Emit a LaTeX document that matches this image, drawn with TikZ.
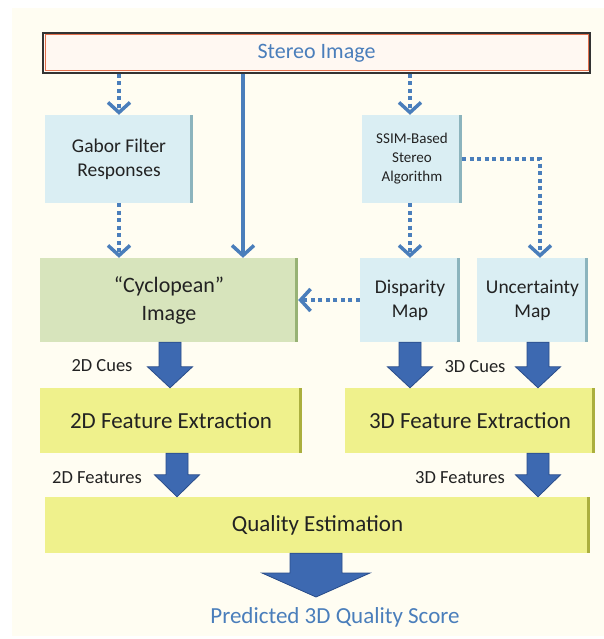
\documentclass[tikz,border=0pt]{standalone}
\usepackage{fontspec}
\setmainfont{Carlito}
\usetikzlibrary{arrows.meta,calc}
\definecolor{bg}{HTML}{FFFDF2}
\definecolor{txt}{HTML}{222222}
\definecolor{bluetxt}{HTML}{4A7EBB}
\definecolor{bluefill}{HTML}{DAEEF3}
\definecolor{blueedge}{HTML}{8CB4BD}
\definecolor{greenfill}{HTML}{D7E4BC}
\definecolor{greenedge}{HTML}{97B275}
\definecolor{yelfill}{HTML}{EFF18C}
\definecolor{yeledge}{HTML}{ABAF3E}
\definecolor{stfill}{HTML}{FFF8F2}
\definecolor{stred}{HTML}{E2704E}
\definecolor{linec}{HTML}{4A7EBB}
\definecolor{fatfill}{HTML}{3D69B1}
\definecolor{fatdraw}{HTML}{2A4D8A}
\newcommand\fatarrow[5]{%
  \path[fill=fatfill,draw=fatdraw,line width=0.8pt,line join=miter]
   let \p1=(#1), \p2=(#2) in
   (\x1-#3pt,\y1) -- (\x1-#3pt,\y2+#5pt) -- (\x1-#4pt,\y2+#5pt) -- (\x1,\y2)
   -- (\x1+#4pt,\y2+#5pt) -- (\x1+#3pt,\y2+#5pt) -- (\x1+#3pt,\y1) -- cycle;}
\tikzset{
  boxbase/.style={inner sep=0pt, align=center, text=txt},
  bevel/.style={path picture={\fill[#1] ([xshift=-3.5pt]path picture bounding box.north east) rectangle (path picture bounding box.south east);}},
  bluebox/.style={boxbase, fill=bluefill, bevel=blueedge, font=\fontsize{19.5}{24}\selectfont},
  greenbox/.style={boxbase, fill=greenfill, bevel=greenedge, font=\fontsize{22}{28}\selectfont},
  yelbox/.style={boxbase, fill=yelfill, bevel=yeledge, font=\fontsize{23}{28}\selectfont},
  lbl/.style={inner sep=0pt, text=txt, font=\fontsize{18.5}{22}\selectfont},
  dotarrow/.style={draw=linec, line width=3.5pt, dash pattern=on 4pt off 3.5pt,
     -{Straight Barb[length=10pt,width=22pt,line width=3.5pt]}},
  solidarrow/.style={draw=linec, line width=3.5pt,
     -{Straight Barb[length=10pt,width=22pt,line width=3.5pt]}},
}
\begin{document}
\begin{tikzpicture}[x=1pt,y=-1pt]
\useasboundingbox (0,0) rectangle (604,639);
\fill[white] (0,0) rectangle (604,639);
\fill[bg] (12,8) rectangle (604,636);

% nodes
\node[inner sep=0pt, minimum width=547pt, minimum height=40pt, fill=stfill, draw=black!80, line width=1.2pt,
      text=bluetxt, font=\fontsize{22}{26}\selectfont,
      path picture={\draw[stred,line width=1pt] ([xshift=2pt,yshift=-2pt]path picture bounding box.north west) rectangle ([xshift=-2pt,yshift=2pt]path picture bounding box.south east);}]
      (stereo) at (316.5,53) {Stereo Image};
\node[bluebox, minimum width=148pt, minimum height=88pt] (gabor) at (119,159) {Gabor Filter\\Responses};
\node[bluebox, minimum width=100pt, minimum height=88pt, font=\fontsize{15}{19}\selectfont] (ssim) at (412,159) {SSIM-Based\\Stereo\\Algorithm};
\node[greenbox, minimum width=258pt, minimum height=84pt] (cyc) at (169,300) {“Cyclopean”\\Image};
\node[bluebox, minimum width=100pt, minimum height=84pt] (disp) at (410,300) {Disparity\\Map};
\node[bluebox, minimum width=111pt, minimum height=84pt] (unc) at (532.5,300) {Uncertainty\\Map};
\node[yelbox, minimum width=262pt, minimum height=65pt] (fe2) at (171,420.5) {2D Feature Extraction};
\node[yelbox, minimum width=250pt, minimum height=65pt] (fe3) at (470,420.5) {3D Feature Extraction};
\node[yelbox, minimum width=545pt, minimum height=56pt] (qual) at (317.5,525) {Quality Estimation};
\node[inner sep=0pt, text=bluetxt, font=\fontsize{23}{27}\selectfont] (pred) at (335,617) {Predicted 3D Quality Score};

% labels
\node[lbl] (l2c) at (102,366) {2D Cues};
\node[lbl] (l3c) at (475,367) {3D Cues};
\node[lbl] (l2f) at (97,478) {2D Features};
\node[lbl] (l3f) at (460,478) {3D Features};

% helper coordinates
\coordinate (k0) at (243,0);
\coordinate (ku) at (540,0);
\coordinate (k1) at (170,0);
\coordinate (k2) at (410,0);
\coordinate (k3) at (538,0);
\coordinate (k4) at (177,0);
\coordinate (k6) at (316,0);
\coordinate (ptip) at (316,597);

% thin connectors
\draw[dotarrow] (stereo.south -| gabor) -- (gabor.north);
\draw[dotarrow] (gabor.south) -- (gabor.south |- cyc.north);
\draw[solidarrow] (stereo.south -| k0) -- (k0 |- cyc.north);
\draw[dotarrow] (stereo.south -| k2) -- (k2 |- ssim.north);
\draw[dotarrow] (k2 |- ssim.south) -- (disp.north);
\draw[dotarrow] (ssim.east) -| (ku |- unc.north);
\draw[dotarrow] (disp.west) -- (cyc.east);

% block arrows
\fatarrow{cyc.south -| k1}{fe2.north -| k1}{11}{22.5}{21}
\fatarrow{disp.south -| k2}{fe3.north -| k2}{11}{22.5}{21}
\fatarrow{unc.south -| k3}{fe3.north -| k3}{11}{22.5}{21}
\fatarrow{fe2.south -| k4}{qual.north -| k4}{11}{22.5}{22}
\fatarrow{fe3.south -| k3}{qual.north -| k3}{11}{22.5}{22}
\fatarrow{qual.south -| k6}{ptip}{26}{54}{24}
\end{tikzpicture}
\end{document}
